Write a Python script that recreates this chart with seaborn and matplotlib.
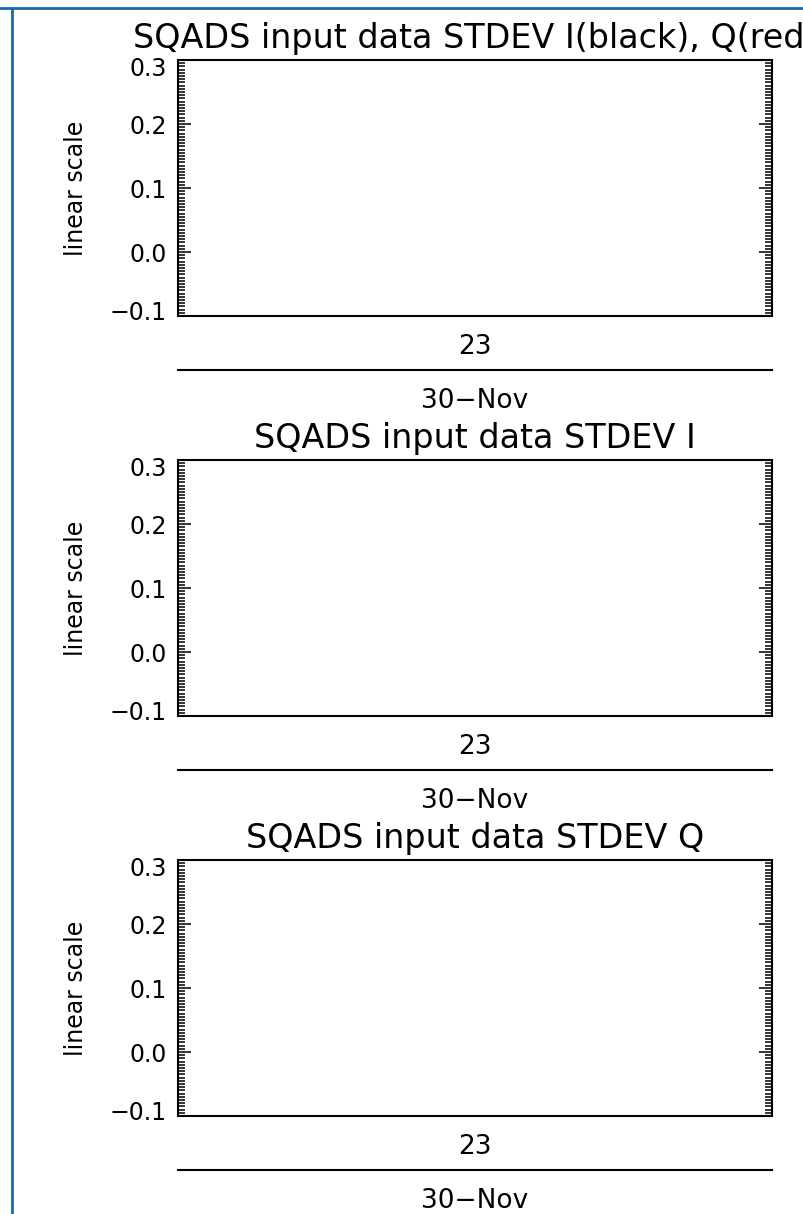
import numpy as np
import pandas as pd
import matplotlib
matplotlib.use('Agg')
import matplotlib.pyplot as plt
import matplotlib.transforms as mtransforms
from matplotlib.ticker import MultipleLocator, FixedLocator, FuncFormatter
from matplotlib.lines import Line2D
import seaborn as sns

# chart text and values
titles = ['SQADS input data STDEV I(black), Q(red)',
          'SQADS input data STDEV I',
          'SQADS input data STDEV Q']
y_label = 'linear scale'
y_limits = [-0.1, 0.3]
y_major = 0.1
y_minor = 0.005
x_limits = [22.5, 23.5]
x_ticks = [23]
x_tick_labels = ['23']
date_ticks = [23]
date_labels = ['30\u2212Nov']

# no samples fall in the plotted window, so the series are empty
hours = []
stdev_i = []
stdev_q = []

sns.set_style('ticks')
plt.rcParams['font.family'] = ['DejaVu Sans']
plt.rcParams['text.color'] = 'black'
plt.rcParams['axes.labelcolor'] = 'black'
plt.rcParams['xtick.color'] = 'black'
plt.rcParams['ytick.color'] = 'black'

W, H = 804, 1214
fig = plt.figure(figsize=(W / 100, H / 100), dpi=100)

# box positions in pixels
box_left, box_right = 178, 772
box_bottoms = [316, 716, 1116]
box_h = 256
date_gap = 54

series_per_panel = [
    [(stdev_i, 'black'), (stdev_q, 'red')],
    [(stdev_i, 'black')],
    [(stdev_q, 'red')],
]

def fmt_y(v, pos):
    return f'{v:.1f}'.replace('-', '\u2212')

lw = 1.5
axes = []
for k, title in enumerate(titles):
    bottom = box_bottoms[k]
    ax = fig.add_axes([box_left / W, 1 - bottom / H,
                       (box_right - box_left) / W, box_h / H])
    axes.append(ax)
    for vals, col in series_per_panel[k]:
        df = pd.DataFrame({'hour': pd.Series(hours, dtype=float),
                           'stdev': pd.Series(vals, dtype=float)})
        sns.lineplot(data=df, x='hour', y='stdev', color=col, ax=ax)

    ax.set_xlim(x_limits)
    ax.set_ylim(y_limits)
    ax.yaxis.set_major_locator(MultipleLocator(y_major))
    ax.yaxis.set_minor_locator(MultipleLocator(y_minor))
    ax.yaxis.set_major_formatter(FuncFormatter(fmt_y))
    ax.xaxis.set_major_locator(FixedLocator(x_ticks))
    ax.set_xticklabels(x_tick_labels)
    ax.set_xlabel('')
    ax.set_ylabel(y_label, fontsize=17)
    ax.yaxis.set_label_coords(-0.152, 0.5)

    ax.tick_params(axis='y', which='both', direction='in', left=True, right=True,
                   width=1.1, labelsize=17, pad=8)
    ax.tick_params(axis='y', which='major', length=9.5)
    ax.tick_params(axis='y', which='minor', length=5)
    ax.tick_params(axis='x', which='both', length=0, labelsize=19, pad=13)
    for sp in ax.spines.values():
        sp.set_visible(True)
        sp.set_linewidth(lw)
        sp.set_color('black')

    ax.set_title(title, fontsize=24, pad=8.6)

    # date axis drawn as a separate line below the box
    sec = ax.secondary_xaxis(-date_gap / box_h)
    sec.set_xticks(date_ticks)
    sec.set_xticklabels(date_labels)
    sec.tick_params(axis='x', length=0, labelsize=19, pad=13)
    sec.spines['bottom'].set_linewidth(lw)
    sec.spines['bottom'].set_color('black')

# end labels sit a little inside the box, as in the original
fig.canvas.draw()
for ax in axes:
    for tick in ax.yaxis.get_major_ticks():
        loc = tick.get_loc()
        shift = 0
        if np.isclose(loc, y_limits[1]):
            shift = -7
        elif np.isclose(loc, y_limits[0]):
            shift = 5
        if shift:
            off = mtransforms.ScaledTranslation(0, shift / 100, fig.dpi_scale_trans)
            tick.label1.set_transform(tick.label1.get_transform() + off)

# blue frame lines along the top and left edges
border = '#1a68a8'
fig.add_artist(Line2D([0, 1], [1 - 7.5 / H] * 2, transform=fig.transFigure,
                      color=border, lw=2))
fig.add_artist(Line2D([12.5 / W] * 2, [0, 1 - 7.5 / H], transform=fig.transFigure,
                      color=border, lw=2))

fig.savefig('out.png', dpi=100)
